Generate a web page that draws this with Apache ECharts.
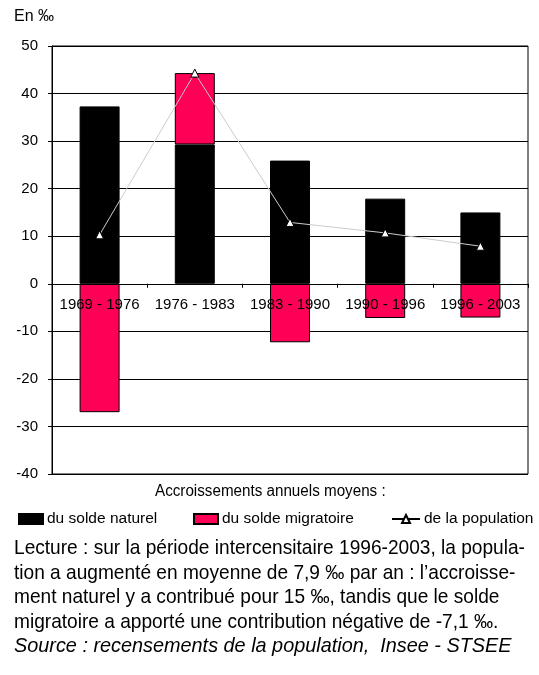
<!DOCTYPE html>
<html><head><meta charset="utf-8">
<script src="https://cdn.jsdelivr.net/npm/echarts@6/dist/echarts.min.js"></script>
<style>html,body{margin:0;padding:0;background:#fff}#c{width:539px;height:675px}</style>
</head><body><div id="c"></div>
<script>
var categories = ['1969 - 1976', '1976 - 1983', '1983 - 1990', '1990 - 1996', '1996 - 2003'];
var soldeNaturel = [37.3, 29.3, 25.9, 17.9, 15.0];
var soldeMigratoire = [-27.0, 15.0, -12.3, -7.2, -7.1];
var population = [10.3, 44.3, 12.9, 10.7, 7.9];
var yTicks = [-40, -30, -20, -10, 0, 10, 20, 30, 40, 50];
var noteLines = [
  'Lecture : sur la période intercensitaire 1996-2003, la popula-',
  'tion a augmenté en moyenne de 7,9 ‰ par an : l\u2019accroisse-',
  'ment naturel y a contribué pour 15 ‰, tandis que le solde',
  'migratoire a apporté une contribution négative de -7,1 ‰.'
];
var sourceLine = 'Source : recensements de la population,  Insee - STSEE';

var FONT = '"Liberation Sans", Arial, sans-serif';
var chart = echarts.init(document.getElementById('c'));

var Y_MIN = -40, Y_MAX = 50;
var GRID_TOP = 46, GRID_BOTTOM = 201, H = 675;
var plotH = H - GRID_TOP - GRID_BOTTOM;
var zeroOffset = -plotH * (0 - Y_MIN) / (Y_MAX - Y_MIN);

var graphics = [
  {type:'text', x:14, y:9, style:{text:'En ‰', font:'16px ' + FONT, fill:'#000'}},
  {type:'text', x:155, y:484, scaleX:0.95, style:{text:'Accroissements annuels moyens :', font:'16px ' + FONT, fill:'#000'}}
];
noteLines.forEach(function(t, i){
  graphics.push({type:'text', x:14, y:538 + i*24.5, scaleX:0.91, style:{text:t, font:'21px ' + FONT, fill:'#000'}});
});
graphics.push({type:'text', x:14, y:538 + 4*24.5, scaleX:0.945, style:{text:sourceLine, font:'italic 21px ' + FONT, fill:'#000'}});

var legendText = {fontFamily:FONT, fontSize:15.5, color:'#000', padding:[0,0,0,-1]};
chart.setOption({
  animation:false,
  backgroundColor:'#fff',
  grid:{left:52, right:11, top:GRID_TOP, bottom:GRID_BOTTOM, show:true, borderColor:'#000', borderWidth:1},
  legend:[
    {data:['du solde naturel'], left:13, top:506, icon:'rect', itemWidth:24, itemHeight:10, textStyle:legendText},
    {data:['du solde migratoire'], left:188, top:506, icon:'rect', itemWidth:24, itemHeight:10, textStyle:legendText},
    {data:['de la population'], left:386, top:506, itemWidth:28, itemHeight:10, lineStyle:{color:'#000'}, textStyle:legendText}
  ],
  xAxis:{
    type:'category', data:categories, z:10, position:'bottom', offset:zeroOffset,
    axisLine:{onZero:false, lineStyle:{color:'#000', width:1}},
    axisTick:{show:true, length:4, lineStyle:{color:'#000'}},
    axisLabel:{color:'#000', fontFamily:FONT, fontSize:15, margin:14, interval:0}
  },
  yAxis:{
    type:'value', min:Y_MIN, max:Y_MAX, interval:10,
    axisLine:{show:true, lineStyle:{color:'#000'}},
    axisTick:{show:true, length:4, lineStyle:{color:'#000'}},
    axisLabel:{color:'#000', fontFamily:FONT, fontSize:15, margin:14, customValues:yTicks},
    splitLine:{lineStyle:{color:'#000', width:1}}
  },
  series:[
    {name:'du solde naturel', type:'bar', stack:'a', data:soldeNaturel, barWidth:'42%',
     itemStyle:{color:'#000', borderColor:'#000', borderWidth:1}},
    {name:'du solde migratoire', type:'bar', stack:'a', data:soldeMigratoire, barWidth:'42%',
     itemStyle:{color:'#ff0057', borderColor:'#000', borderWidth:1}},
    {name:'de la population', type:'line', data:population, z:5,
     symbol:'triangle', symbolSize:8,
     lineStyle:{color:'#cccccc', width:1},
     itemStyle:{color:'#fff', borderColor:'#000', borderWidth:1}}
  ],
  graphic:graphics
});
</script></body></html>
